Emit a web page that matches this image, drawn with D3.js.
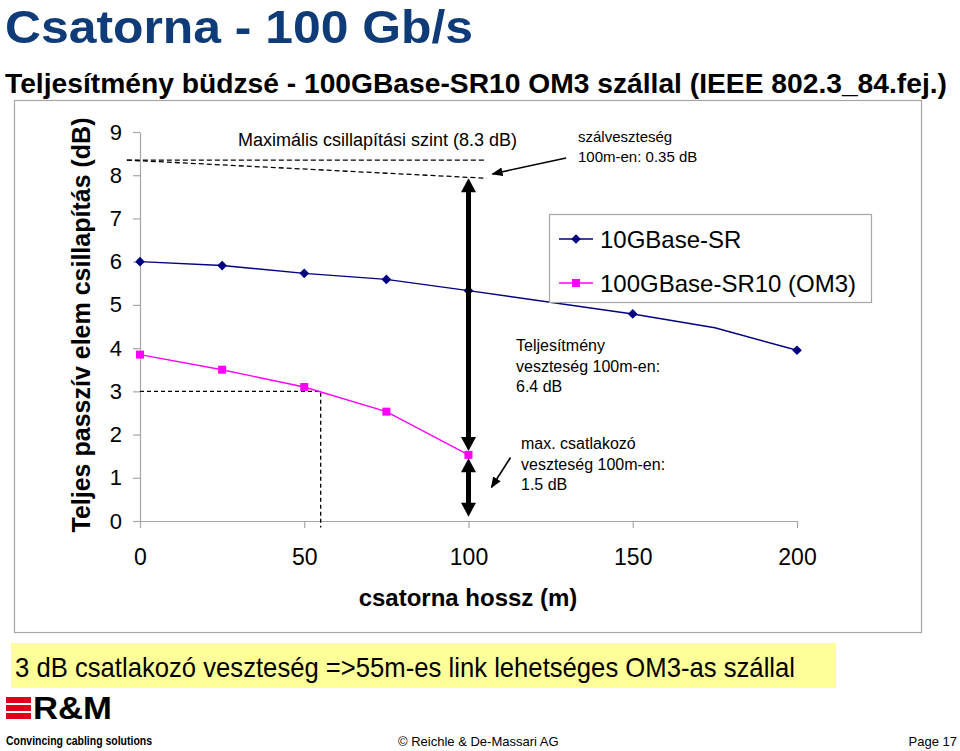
<!DOCTYPE html>
<html><head><meta charset="utf-8">
<script src="https://cdn.jsdelivr.net/npm/d3@7"></script>
<style>html,body{margin:0;padding:0;background:#fff;} svg{display:block;font-family:"Liberation Sans",Arial,sans-serif;}</style>
</head><body>
<svg id="c" width="960" height="751"></svg>
<script>
// ---- data ----
const lengths = [0, 25, 50, 75, 100, 150, 175, 200];
const sr10GValues = [6.0, 5.91, 5.73, 5.59, 5.33, 4.79, 4.47, 3.95];
const sr10GMarked = [1, 1, 1, 1, 1, 1, 0, 1];
const om3Lengths = [0, 25, 50, 75, 100];
const sr100GValues = [3.85, 3.50, 3.10, 2.53, 1.53];
const xTickValues = [0, 50, 100, 150, 200];
const yTickValues = [0, 1, 2, 3, 4, 5, 6, 7, 8, 9];
const seriesNames = ["10GBase-SR", "100GBase-SR10 (OM3)"];
const maxLevel = 8.35, fiberLossLevel = 7.93, connectorLevel = 1.5;
const linkLength = 55, connectorBudget = 3;

const svg = d3.select("#c");
const blue = "#000080", pink = "#ff00ff", axisGray = "#a6a6a6";

// ---- chart frame ----
svg.append("rect").attr("x", 14.5).attr("y", 100.5).attr("width", 907).attr("height", 532)
  .attr("fill", "#fff").attr("stroke", axisGray).attr("stroke-width", 1.2);

// ---- titles ----
svg.append("text").attr("x", 5).attr("y", 42.5).attr("font-size", 47).attr("font-weight", "bold")
  .attr("fill", "#0f3c78").attr("textLength", 468).attr("lengthAdjust", "spacingAndGlyphs")
  .text("Csatorna - 100 Gb/s");
svg.append("text").attr("x", 5).attr("y", 93).attr("font-size", 28).attr("font-weight", "bold")
  .attr("textLength", 942).attr("lengthAdjust", "spacingAndGlyphs")
  .text("Teljesítmény büdzsé - 100GBase-SR10 OM3 szállal (IEEE 802.3_84.fej.)");

const x = d3.scaleLinear().domain([0, 200]).range([140, 797]);
const y = d3.scaleLinear().domain([0, 9]).range([521, 132]);

// axes
const gx = svg.append("g").attr("transform", "translate(0,521)")
  .call(d3.axisBottom(x).tickValues(xTickValues).tickSize(7).tickPadding(21).tickSizeOuter(0).tickFormat(d3.format("d")));
const gy = svg.append("g").attr("transform", "translate(140,0)")
  .call(d3.axisLeft(y).tickValues(yTickValues).tickSize(7).tickPadding(11).tickSizeOuter(0).tickFormat(d3.format("d")));
[gx, gy].forEach(g => {
  g.select(".domain").attr("stroke", axisGray).attr("stroke-width", 1.2);
  g.selectAll(".tick line").attr("stroke", axisGray).attr("stroke-width", 1.2);
  g.selectAll(".tick text").attr("fill", "#000").attr("font-family", "Liberation Sans, Arial, sans-serif");
});
gx.selectAll(".tick text").attr("font-size", 23);
gy.selectAll(".tick text").attr("font-size", 22);

// axis titles
svg.append("text").attr("transform", "translate(90,325) rotate(-90)").attr("text-anchor", "middle")
  .attr("font-size", 25).attr("font-weight", "bold").text("Teljes passzív elem csillapítás (dB)");
svg.append("text").attr("x", 468).attr("y", 606).attr("text-anchor", "middle")
  .attr("font-size", 24).attr("font-weight", "bold").text("csatorna hossz (m)");

// ---- dashed reference lines ----
const dash = "5,3";
svg.append("line").attr("x1", x(-4)).attr("x2", x(105.5)).attr("y1", y(maxLevel)).attr("y2", y(maxLevel))
  .attr("stroke", "#000").attr("stroke-width", 1.3).attr("stroke-dasharray", dash);
svg.append("line").attr("x1", x(-4)).attr("x2", x(105.5)).attr("y1", y(maxLevel)).attr("y2", y(fiberLossLevel))
  .attr("stroke", "#000").attr("stroke-width", 1.3).attr("stroke-dasharray", dash);
svg.append("path")
  .attr("d", `M${x(0)},${y(connectorBudget)}H${x(linkLength)}V${y(-0.15)}`)
  .attr("fill", "none").attr("stroke", "#000").attr("stroke-width", 1.3).attr("stroke-dasharray", "4,3");

// ---- series ----
const line = d3.line().x(d => x(d[0])).y(d => y(d[1]));
const blueData = lengths.map((l, i) => [l, sr10GValues[i], sr10GMarked[i]]);
const pinkData = om3Lengths.map((l, i) => [l, sr100GValues[i]]);

svg.append("path").attr("d", line(blueData)).attr("fill", "none").attr("stroke", blue).attr("stroke-width", 1.4);
svg.append("g").selectAll("path").data(blueData.filter(d => d[2])).join("path")
  .attr("d", d3.symbol(d3.symbolDiamond2, 60)).attr("transform", d => `translate(${x(d[0])},${y(d[1])})`)
  .attr("fill", blue);

svg.append("path").attr("d", line(pinkData)).attr("fill", "none").attr("stroke", pink).attr("stroke-width", 1.4);
svg.append("g").selectAll("rect").data(pinkData).join("rect")
  .attr("x", d => x(d[0]) - 4).attr("y", d => y(d[1]) - 4).attr("width", 8).attr("height", 8).attr("fill", pink);

// ---- thick arrows ----
function bigArrow(xv, vTop, vBot) {
  const xc = x(xv), yt = y(vTop), yb = y(vBot), hw = 7.5, hh = 14;
  svg.append("line").attr("x1", xc).attr("x2", xc).attr("y1", yt + hh - 1).attr("y2", yb - hh + 1)
    .attr("stroke", "#000").attr("stroke-width", 5);
  svg.append("path").attr("d", `M${xc},${yt}L${xc - hw},${yt + hh}L${xc + hw},${yt + hh}Z`).attr("fill", "#000");
  svg.append("path").attr("d", `M${xc},${yb}L${xc - hw},${yb - hh}L${xc + hw},${yb - hh}Z`).attr("fill", "#000");
}
bigArrow(100, fiberLossLevel, connectorLevel + 0.12);
bigArrow(100, connectorLevel - 0.05, 0.1);

// ---- thin arrows ----
const defs = svg.append("defs");
defs.append("marker").attr("id", "ah").attr("viewBox", "0 0 10 10").attr("refX", 9).attr("refY", 5)
  .attr("markerWidth", 7).attr("markerHeight", 7).attr("orient", "auto")
  .append("path").attr("d", "M0,1L10,5L0,9Z").attr("fill", "#000");
svg.append("line").attr("x1", x(129.7)).attr("y1", y(8.40)).attr("x2", x(107.3)).attr("y2", y(8.03))
  .attr("stroke", "#000").attr("stroke-width", 1.6).attr("marker-end", "url(#ah)");
svg.append("line").attr("x1", x(112.8)).attr("y1", y(1.47)).attr("x2", x(107)).attr("y2", y(0.78))
  .attr("stroke", "#000").attr("stroke-width", 1.6).attr("marker-end", "url(#ah)");

// ---- annotations ----
function textLines(xp, yp, lines, size, gap) {
  const t = svg.append("text").attr("font-size", size).attr("fill", "#000");
  lines.forEach((s, i) => t.append("tspan").attr("x", xp).attr("y", yp + i * gap).text(s));
}
textLines(238, 146, ["Maximális csillapítási szint (8.3 dB)"], 18, 0);
textLines(578, 142, ["szálveszteség", "100m-en: 0.35 dB"], 15, 20);
textLines(516, 351, ["Teljesítmény", "veszteség 100m-en:", "6.4 dB"], 16, 20.5);
textLines(521, 449, ["max. csatlakozó", "veszteség 100m-en:", "1.5 dB"], 16, 20.5);

// ---- legend ----
const lg = svg.append("g");
lg.append("rect").attr("x", 549.5).attr("y", 214.5).attr("width", 322).attr("height", 88)
  .attr("fill", "#fff").attr("stroke", axisGray).attr("stroke-width", 1.2);
const legY = [239, 283];
[blue, pink].forEach((c, i) => {
  lg.append("line").attr("x1", 559).attr("x2", 593).attr("y1", legY[i]).attr("y2", legY[i])
    .attr("stroke", c).attr("stroke-width", 1.4);
  if (i === 0) lg.append("path").attr("d", d3.symbol(d3.symbolDiamond2, 60)).attr("transform", `translate(576,${legY[i]})`).attr("fill", c);
  else lg.append("rect").attr("x", 572).attr("y", legY[i] - 4).attr("width", 8).attr("height", 8).attr("fill", c);
  lg.append("text").attr("x", 600).attr("y", legY[i] + 8.5).attr("font-size", 24).text(seriesNames[i]);
});

// ---- bottom banner ----
svg.append("rect").attr("x", 11).attr("y", 643).attr("width", 825).attr("height", 45).attr("fill", "#ffff99");
svg.append("text").attr("x", 15).attr("y", 677).attr("font-size", 28)
  .attr("textLength", 780).attr("lengthAdjust", "spacingAndGlyphs")
  .text("3 dB csatlakozó veszteség =>55m-es link lehetséges OM3-as szállal");

// ---- footer / logo ----
[697, 705, 713].forEach(yy => svg.append("rect").attr("x", 6).attr("y", yy).attr("width", 25).attr("height", 6).attr("fill", "#e2001a"));
svg.append("text").attr("x", 33).attr("y", 719).attr("font-size", 32).attr("font-weight", "bold")
  .attr("textLength", 79).attr("lengthAdjust", "spacingAndGlyphs").text("R&M");
svg.append("text").attr("x", 6).attr("y", 745).attr("font-size", 12).attr("font-weight", "bold")
  .attr("textLength", 146).attr("lengthAdjust", "spacingAndGlyphs").text("Convincing cabling solutions");
svg.append("text").attr("x", 398).attr("y", 746).attr("font-size", 13).text("© Reichle & De-Massari AG");
svg.append("text").attr("x", 957).attr("y", 746).attr("font-size", 13).attr("text-anchor", "end").text("Page 17");
</script>
</body></html>
